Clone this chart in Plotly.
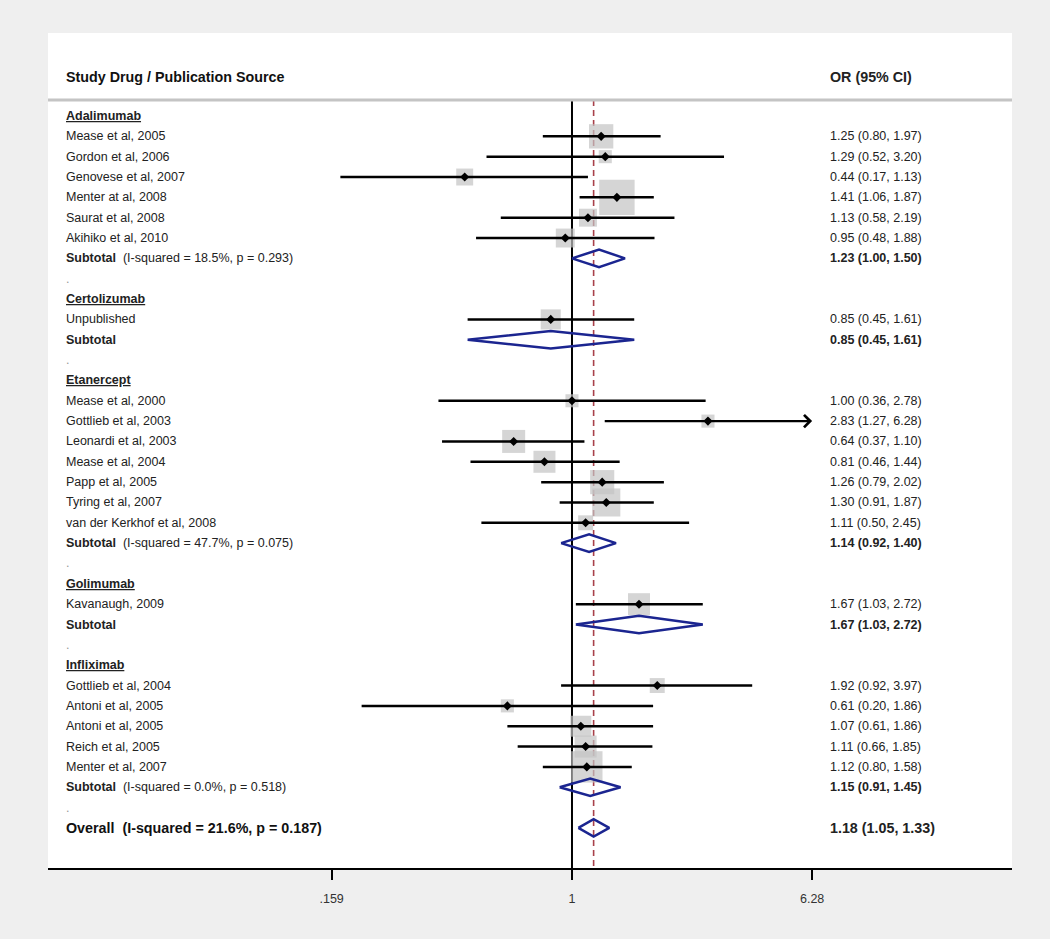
import math
import plotly.graph_objects as go

# ---------------- data ----------------
drugs = ["Adalimumab", "Certolizumab", "Etanercept", "Golimumab", "Infliximab"]

study_labels = [
    ["Mease et al, 2005", "Gordon et al, 2006", "Genovese et al, 2007", "Menter at al, 2008",
     "Saurat et al, 2008", "Akihiko et al, 2010"],
    ["Unpublished"],
    ["Mease et al, 2000", "Gottlieb et al, 2003", "Leonardi et al, 2003", "Mease et al, 2004",
     "Papp et al, 2005", "Tyring et al, 2007", "van der Kerkhof et al, 2008"],
    ["Kavanaugh, 2009"],
    ["Gottlieb et al, 2004", "Antoni et al, 2005", "Antoni et al, 2005", "Reich et al, 2005",
     "Menter et al, 2007"],
]
study_or = [
    [1.25, 1.29, 0.44, 1.41, 1.13, 0.95],
    [0.85],
    [1.00, 2.83, 0.64, 0.81, 1.26, 1.30, 1.11],
    [1.67],
    [1.92, 0.61, 1.07, 1.11, 1.12],
]
study_lo = [
    [0.80, 0.52, 0.17, 1.06, 0.58, 0.48],
    [0.45],
    [0.36, 1.27, 0.37, 0.46, 0.79, 0.91, 0.50],
    [1.03],
    [0.92, 0.20, 0.61, 0.66, 0.80],
]
study_hi = [
    [1.97, 3.20, 1.13, 1.87, 2.19, 1.88],
    [1.61],
    [2.78, 6.28, 1.10, 1.44, 2.02, 1.87, 2.45],
    [2.72],
    [3.97, 1.86, 1.86, 1.85, 1.58],
]
# estimated study weights (%)
study_weight = [
    [6.6, 1.9, 3.2, 14.0, 3.6, 4.0],
    [4.5],
    [1.9, 1.9, 5.9, 5.4, 6.5, 8.8, 2.5],
    [5.4],
    [2.5, 1.9, 4.9, 5.4, 11.0],
]

sub_or = [1.23, 0.85, 1.14, 1.67, 1.15]
sub_lo = [1.00, 0.45, 0.92, 1.03, 0.91]
sub_hi = [1.50, 1.61, 1.40, 2.72, 1.45]
sub_i2 = [18.5, None, 47.7, None, 0.0]
sub_p = [0.293, None, 0.075, None, 0.518]

overall_or, overall_lo, overall_hi = 1.18, 1.05, 1.33
overall_i2, overall_p = 21.6, 0.187

tick_vals = [0.159, 1, 6.28]
tick_text = [".159", "1", "6.28"]

# ---------------- layout constants ----------------
W, H = 1050, 939
FONT = "Liberation Sans, Arial, sans-serif"
TXT = "#222222"
BOX = "#c3c3c3"
NAVY = "#1b2590"
RED = "#a8404a"
XRANGE = [-1.741, 1.462]          # log10 units
YRANGE = [36.97, -4.08]           # row units (reversed)
HEADER_ROW = -1.92
SEP_ROW = -0.79
LEFT_X = 0.0166
RIGHT_X = 0.809
DH = 0.43                         # diamond half height (rows)
SIZE_K = 9.47                     # box side px per sqrt(weight)

def fmt(o, l, h):
    return f"{o:.2f} ({l:.2f}, {h:.2f})"

fig = go.Figure()
annotations = []

def left_text(row, text, size=12.5, color=TXT):
    annotations.append(dict(x=LEFT_X, y=row, xref="paper", yref="y", text=text,
                            showarrow=False, xanchor="left", yanchor="middle",
                            font=dict(family=FONT, size=size, color=color)))

def right_text(row, text, size=12.5):
    annotations.append(dict(x=RIGHT_X, y=row, xref="paper", yref="y", text=text,
                            showarrow=False, xanchor="left", yanchor="middle",
                            font=dict(family=FONT, size=size, color=TXT)))

# headers
left_text(HEADER_ROW, "<b>Study Drug / Publication Source</b>", size=14.3, color="#111")
right_text(HEADER_ROW, "<b>OR (95% CI)</b>", size=14.3)

ci_x, ci_y = [], []
box_x, box_y, box_s = [], [], []
pt_x, pt_y = [], []
dia_x, dia_y = [], []
arrows = []

row = 0
for g, drug in enumerate(drugs):
    left_text(row, f"<b><u>{drug}</u></b>")
    row += 1
    for lab, o, l, h, w in zip(study_labels[g], study_or[g], study_lo[g], study_hi[g], study_weight[g]):
        left_text(row, lab)
        right_text(row, fmt(o, l, h))
        if h >= tick_vals[-1]:
            arrows.append((l, h, row))
        else:
            ci_x += [l, h, None]
            ci_y += [row, row, None]
        box_x.append(o); box_y.append(row); box_s.append(SIZE_K * math.sqrt(w))
        pt_x.append(o); pt_y.append(row)
        row += 1
    if sub_i2[g] is not None:
        lab = f"<b>Subtotal</b>\u00a0\u00a0(I-squared = {sub_i2[g]:.1f}%, p = {sub_p[g]:.3f})"
    else:
        lab = "<b>Subtotal</b>"
    left_text(row, lab)
    right_text(row, "<b>" + fmt(sub_or[g], sub_lo[g], sub_hi[g]) + "</b>")
    dia_x += [sub_lo[g], sub_or[g], sub_hi[g], sub_or[g], sub_lo[g], None]
    dia_y += [row, row - DH, row, row + DH, row, None]
    row += 1
    left_text(row, ".", color="#999")
    row += 1

# overall
left_text(row, f"<b>Overall\u00a0\u00a0(I-squared = {overall_i2:.1f}%, p = {overall_p:.3f})</b>", size=14.3, color="#111")
right_text(row, "<b>" + fmt(overall_or, overall_lo, overall_hi) + "</b>", size=14.3)
dia_x += [overall_lo, overall_or, overall_hi, overall_or, overall_lo, None]
dia_y += [row, row - DH, row, row + DH, row, None]

# reference lines
fig.add_trace(go.Scatter(x=[1, 1], y=[SEP_ROW, YRANGE[0]], mode="lines",
                         line=dict(color="black", width=2), hoverinfo="skip"))
fig.add_trace(go.Scatter(x=[overall_or, overall_or], y=[SEP_ROW, YRANGE[0]], mode="lines",
                         line=dict(color=RED, width=1.6, dash="6px,4px"), hoverinfo="skip"))

# weight boxes
fig.add_trace(go.Scatter(x=box_x, y=box_y, mode="markers",
                         marker=dict(symbol="square", size=box_s, color=BOX, line=dict(width=0)),
                         hoverinfo="skip"))
# CI lines
fig.add_trace(go.Scatter(x=ci_x, y=ci_y, mode="lines",
                         line=dict(color="black", width=2.5), hoverinfo="skip"))
# point estimates
fig.add_trace(go.Scatter(x=pt_x, y=pt_y, mode="markers",
                         marker=dict(symbol="diamond", size=7, color="black"),
                         hoverinfo="skip"))
# diamonds
fig.add_trace(go.Scatter(x=dia_x, y=dia_y, mode="lines",
                         line=dict(color=NAVY, width=2.5), hoverinfo="skip"))

# clipped CI with arrows
for l, h, r in arrows:
    annotations.append(dict(x=math.log10(h), y=r, ax=math.log10(l), ay=r,
                            xref="x", yref="y", axref="x", ayref="y",
                            showarrow=True, arrowhead=4, arrowsize=1.0,
                            arrowwidth=2.4, arrowcolor="black", standoff=0, text=""))

shapes = [dict(type="line", xref="paper", yref="y", x0=0, x1=1, y0=SEP_ROW, y1=SEP_ROW,
               line=dict(color="#c4c4c4", width=3))]

fig.update_layout(
    width=W, height=H,
    margin=dict(l=48, r=38, t=33, b=71),
    paper_bgcolor="#efefef", plot_bgcolor="white",
    showlegend=False,
    annotations=annotations, shapes=shapes,
    xaxis=dict(type="log", range=XRANGE, tickvals=tick_vals, ticktext=tick_text,
               showgrid=False, zeroline=False, showline=True, linecolor="black", linewidth=2,
               ticks="outside", ticklen=10, tickwidth=2, tickcolor="black",
               ticklabelstandoff=8,
               tickfont=dict(family=FONT, size=12.5, color="#333"), fixedrange=True),
    yaxis=dict(range=YRANGE, visible=False, showgrid=False, zeroline=False, fixedrange=True),
)

fig.write_html("out.html", config={"displayModeBar": False},
               post_script="document.body.style.margin='0';document.body.style.overflow='hidden';document.body.style.background='#efefef';")
